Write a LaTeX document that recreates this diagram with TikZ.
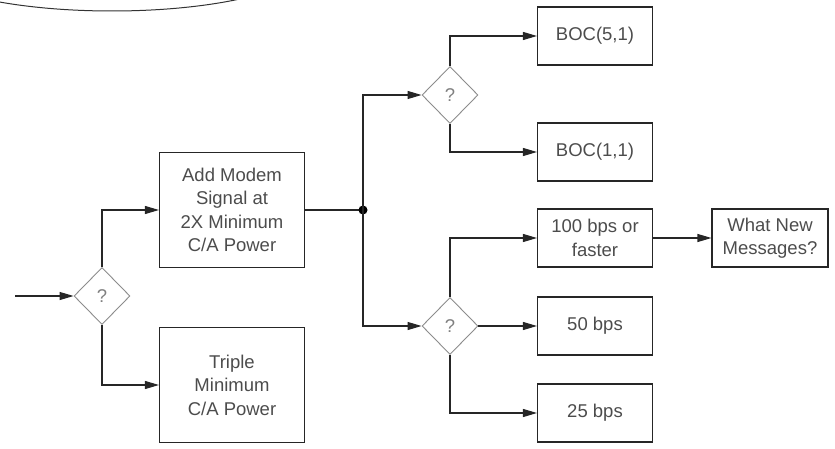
\documentclass[tikz,border=0pt]{standalone}
\usepackage{fontspec}
\setmainfont{Liberation Sans}
\usetikzlibrary{shapes.geometric,arrows.meta}

\begin{document}
\begin{tikzpicture}[x=1pt,y=-1pt,
    every node/.style={font=\fontsize{18.5}{23.5}\selectfont,text=black!70,align=center},
    box/.style={draw=black!85,line width=1.1pt,minimum width=115,minimum height=58},
    bigbox/.style={box,minimum width=145,minimum height=115},
    ask/.style={diamond,draw=black!45,line width=0.9pt,text=black!50,inner sep=0pt,
      minimum width=56,minimum height=57},
    flow/.style={draw=black!85,line width=1.1pt,-{Triangle[length=14pt,width=8pt]}}
  ]
\useasboundingbox (0,0) rectangle (835,449);
\begin{scope}
  \clip (0,0) rectangle (835,449);
  \draw[black!80,line width=1pt] (112,-41) ellipse (200 and 52);
\end{scope}
\coordinate (in) at (15,296);
\node[ask] (q1) at (102,296) {?};
\node[bigbox] (modem) at (232,210) {Add Modem\\Signal at\\2X Minimum\\C/A Power};
\node[bigbox] (triple) at (232,385) {Triple\\Minimum\\C/A Power};
\coordinate (j) at (363,210);
\node[ask] (q2) at (450,95) {?};
\node[ask] (q3) at (450,326) {?};
\node[box] (boc51) at (595,36) {BOC(5,1)};
\node[box] (boc11) at (595,152) {BOC(1,1)};
\node[box] (fast) at (595,238) {100 bps or\\faster};
\node[box] (bps50) at (595,326) {50 bps};
\node[box] (bps25) at (595,413) {25 bps};
\node[box,minimum width=116] (msg) at (770,238) {What New\\Messages?};
\draw[flow] (in) -- (q1.west);
\draw[flow] (q1.north) |- (modem.west);
\draw[flow] (q1.south) |- (triple.west);
\draw[draw=black!85,line width=1.1pt] (modem.east) -- (j);
\fill[black] (j) circle (4.5);
\draw[flow] (j) |- (q2.west);
\draw[flow] (j) |- (q3.west);
\draw[flow] (q2.north) |- (boc51.west);
\draw[flow] (q2.south) |- (boc11.west);
\draw[flow] (q3.north) |- (fast.west);
\draw[flow] (q3.east) -- (bps50.west);
\draw[flow] (q3.south) |- (bps25.west);
\draw[flow] (fast.east) -- (msg.west);
\end{tikzpicture}
\end{document}
